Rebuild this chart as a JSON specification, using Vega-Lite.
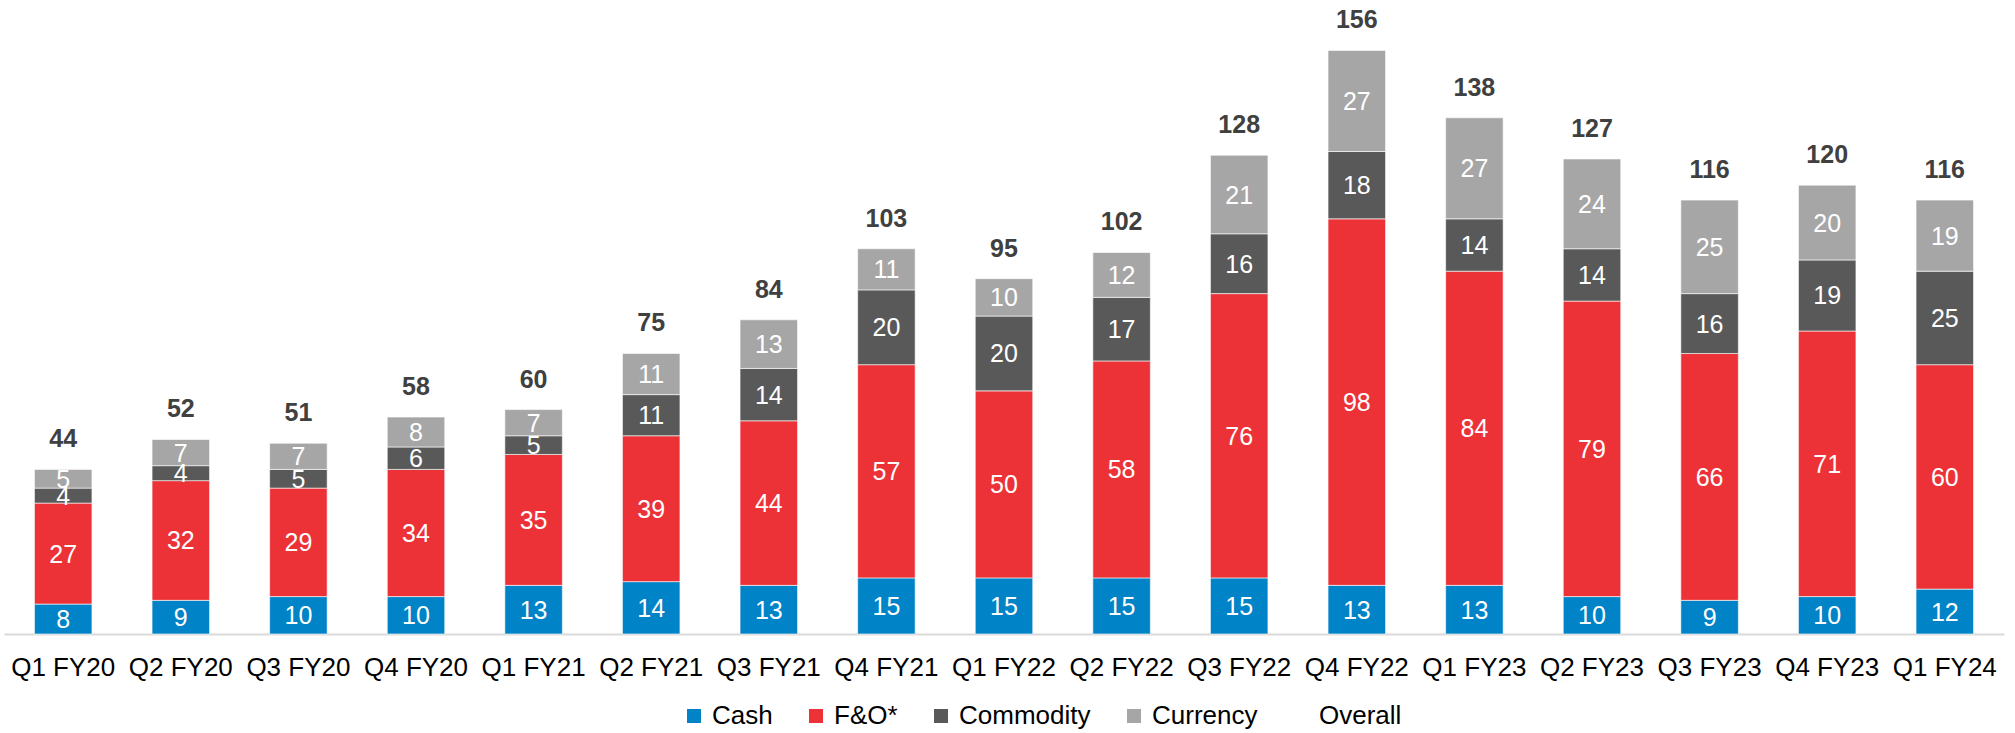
{
  "$schema": "https://vega.github.io/schema/vega-lite/v6.json",
  "width": 2000,
  "height": 634,
  "autosize": {"type": "none"},
  "padding": {"left": 4, "top": 0, "right": 11, "bottom": 99},
  "config": {"view": {"stroke": null}, "font": "Liberation Sans"},
  "data": {"values": [
    {"q":"Q1 FY20","s":"Cash","k":1,"v":8},{"q":"Q1 FY20","s":"F&O*","k":2,"v":27},{"q":"Q1 FY20","s":"Commodity","k":3,"v":4},{"q":"Q1 FY20","s":"Currency","k":4,"v":5},
    {"q":"Q2 FY20","s":"Cash","k":1,"v":9},{"q":"Q2 FY20","s":"F&O*","k":2,"v":32},{"q":"Q2 FY20","s":"Commodity","k":3,"v":4},{"q":"Q2 FY20","s":"Currency","k":4,"v":7},
    {"q":"Q3 FY20","s":"Cash","k":1,"v":10},{"q":"Q3 FY20","s":"F&O*","k":2,"v":29},{"q":"Q3 FY20","s":"Commodity","k":3,"v":5},{"q":"Q3 FY20","s":"Currency","k":4,"v":7},
    {"q":"Q4 FY20","s":"Cash","k":1,"v":10},{"q":"Q4 FY20","s":"F&O*","k":2,"v":34},{"q":"Q4 FY20","s":"Commodity","k":3,"v":6},{"q":"Q4 FY20","s":"Currency","k":4,"v":8},
    {"q":"Q1 FY21","s":"Cash","k":1,"v":13},{"q":"Q1 FY21","s":"F&O*","k":2,"v":35},{"q":"Q1 FY21","s":"Commodity","k":3,"v":5},{"q":"Q1 FY21","s":"Currency","k":4,"v":7},
    {"q":"Q2 FY21","s":"Cash","k":1,"v":14},{"q":"Q2 FY21","s":"F&O*","k":2,"v":39},{"q":"Q2 FY21","s":"Commodity","k":3,"v":11},{"q":"Q2 FY21","s":"Currency","k":4,"v":11},
    {"q":"Q3 FY21","s":"Cash","k":1,"v":13},{"q":"Q3 FY21","s":"F&O*","k":2,"v":44},{"q":"Q3 FY21","s":"Commodity","k":3,"v":14},{"q":"Q3 FY21","s":"Currency","k":4,"v":13},
    {"q":"Q4 FY21","s":"Cash","k":1,"v":15},{"q":"Q4 FY21","s":"F&O*","k":2,"v":57},{"q":"Q4 FY21","s":"Commodity","k":3,"v":20},{"q":"Q4 FY21","s":"Currency","k":4,"v":11},
    {"q":"Q1 FY22","s":"Cash","k":1,"v":15},{"q":"Q1 FY22","s":"F&O*","k":2,"v":50},{"q":"Q1 FY22","s":"Commodity","k":3,"v":20},{"q":"Q1 FY22","s":"Currency","k":4,"v":10},
    {"q":"Q2 FY22","s":"Cash","k":1,"v":15},{"q":"Q2 FY22","s":"F&O*","k":2,"v":58},{"q":"Q2 FY22","s":"Commodity","k":3,"v":17},{"q":"Q2 FY22","s":"Currency","k":4,"v":12},
    {"q":"Q3 FY22","s":"Cash","k":1,"v":15},{"q":"Q3 FY22","s":"F&O*","k":2,"v":76},{"q":"Q3 FY22","s":"Commodity","k":3,"v":16},{"q":"Q3 FY22","s":"Currency","k":4,"v":21},
    {"q":"Q4 FY22","s":"Cash","k":1,"v":13},{"q":"Q4 FY22","s":"F&O*","k":2,"v":98},{"q":"Q4 FY22","s":"Commodity","k":3,"v":18},{"q":"Q4 FY22","s":"Currency","k":4,"v":27},
    {"q":"Q1 FY23","s":"Cash","k":1,"v":13},{"q":"Q1 FY23","s":"F&O*","k":2,"v":84},{"q":"Q1 FY23","s":"Commodity","k":3,"v":14},{"q":"Q1 FY23","s":"Currency","k":4,"v":27},
    {"q":"Q2 FY23","s":"Cash","k":1,"v":10},{"q":"Q2 FY23","s":"F&O*","k":2,"v":79},{"q":"Q2 FY23","s":"Commodity","k":3,"v":14},{"q":"Q2 FY23","s":"Currency","k":4,"v":24},
    {"q":"Q3 FY23","s":"Cash","k":1,"v":9},{"q":"Q3 FY23","s":"F&O*","k":2,"v":66},{"q":"Q3 FY23","s":"Commodity","k":3,"v":16},{"q":"Q3 FY23","s":"Currency","k":4,"v":25},
    {"q":"Q4 FY23","s":"Cash","k":1,"v":10},{"q":"Q4 FY23","s":"F&O*","k":2,"v":71},{"q":"Q4 FY23","s":"Commodity","k":3,"v":19},{"q":"Q4 FY23","s":"Currency","k":4,"v":20},
    {"q":"Q1 FY24","s":"Cash","k":1,"v":12},{"q":"Q1 FY24","s":"F&O*","k":2,"v":60},{"q":"Q1 FY24","s":"Commodity","k":3,"v":25},{"q":"Q1 FY24","s":"Currency","k":4,"v":19}
  ]},
  "encoding": {
    "x": {
      "field": "q", "type": "nominal", "sort": null,
      "scale": {"paddingInner": 0.511, "paddingOuter": 0.259},
      "axis": {"title": null, "labelAngle": 0, "labelFontSize": 26, "labelColor": "#000000", "ticks": false, "domainColor": "#D9D9D9", "domainWidth": 2, "labelPadding": 20, "grid": false}
    }
  },
  "resolve": {"scale": {"y": "shared"}},
  "layer": [
    {
      "mark": {"type": "bar", "stroke": "#ffffff", "strokeWidth": 0.6},
      "encoding": {
        "y": {"field": "v", "type": "quantitative", "stack": "zero", "scale": {"domain": [0, 169.5], "nice": false, "zero": true}, "axis": null},
        "order": {"field": "k", "type": "quantitative"},
        "color": {
          "field": "s", "type": "nominal",
          "scale": {"domain": ["Cash", "F&O*", "Commodity", "Currency", "Overall"], "range": ["#0083C7", "#EC3237", "#595959", "#A6A6A6", "#FFFFFF"]},
          "legend": {"orient": "none", "legendX": 677, "legendY": 703, "direction": "horizontal", "title": null, "labelFontSize": 26, "labelColor": "#000000", "symbolType": "square", "symbolSize": 196, "symbolStrokeWidth": 0, "symbolOpacity": 1, "columnPadding": 30, "labelOffset": 5, "padding": 0}
        }
      }
    },
    {
      "mark": {"type": "text", "color": "#FFFFFF", "fontSize": 25, "baseline": "middle", "dy": 1},
      "encoding": {
        "y": {"field": "v", "type": "quantitative", "stack": "zero", "bandPosition": 0.5, "scale": {"domain": [0, 169.5], "nice": false}},
        "order": {"field": "k", "type": "quantitative"},
        "detail": {"field": "s", "type": "nominal"},
        "text": {"field": "v", "type": "quantitative"}
      }
    },
    {
      "mark": {"type": "text", "color": "#404040", "fontSize": 25, "fontWeight": "bold", "baseline": "alphabetic", "dy": -22},
      "encoding": {
        "y": {"aggregate": "sum", "field": "v", "type": "quantitative", "scale": {"domain": [0, 169.5], "nice": false}},
        "text": {"aggregate": "sum", "field": "v", "type": "quantitative"}
      }
    }
  ]
}
